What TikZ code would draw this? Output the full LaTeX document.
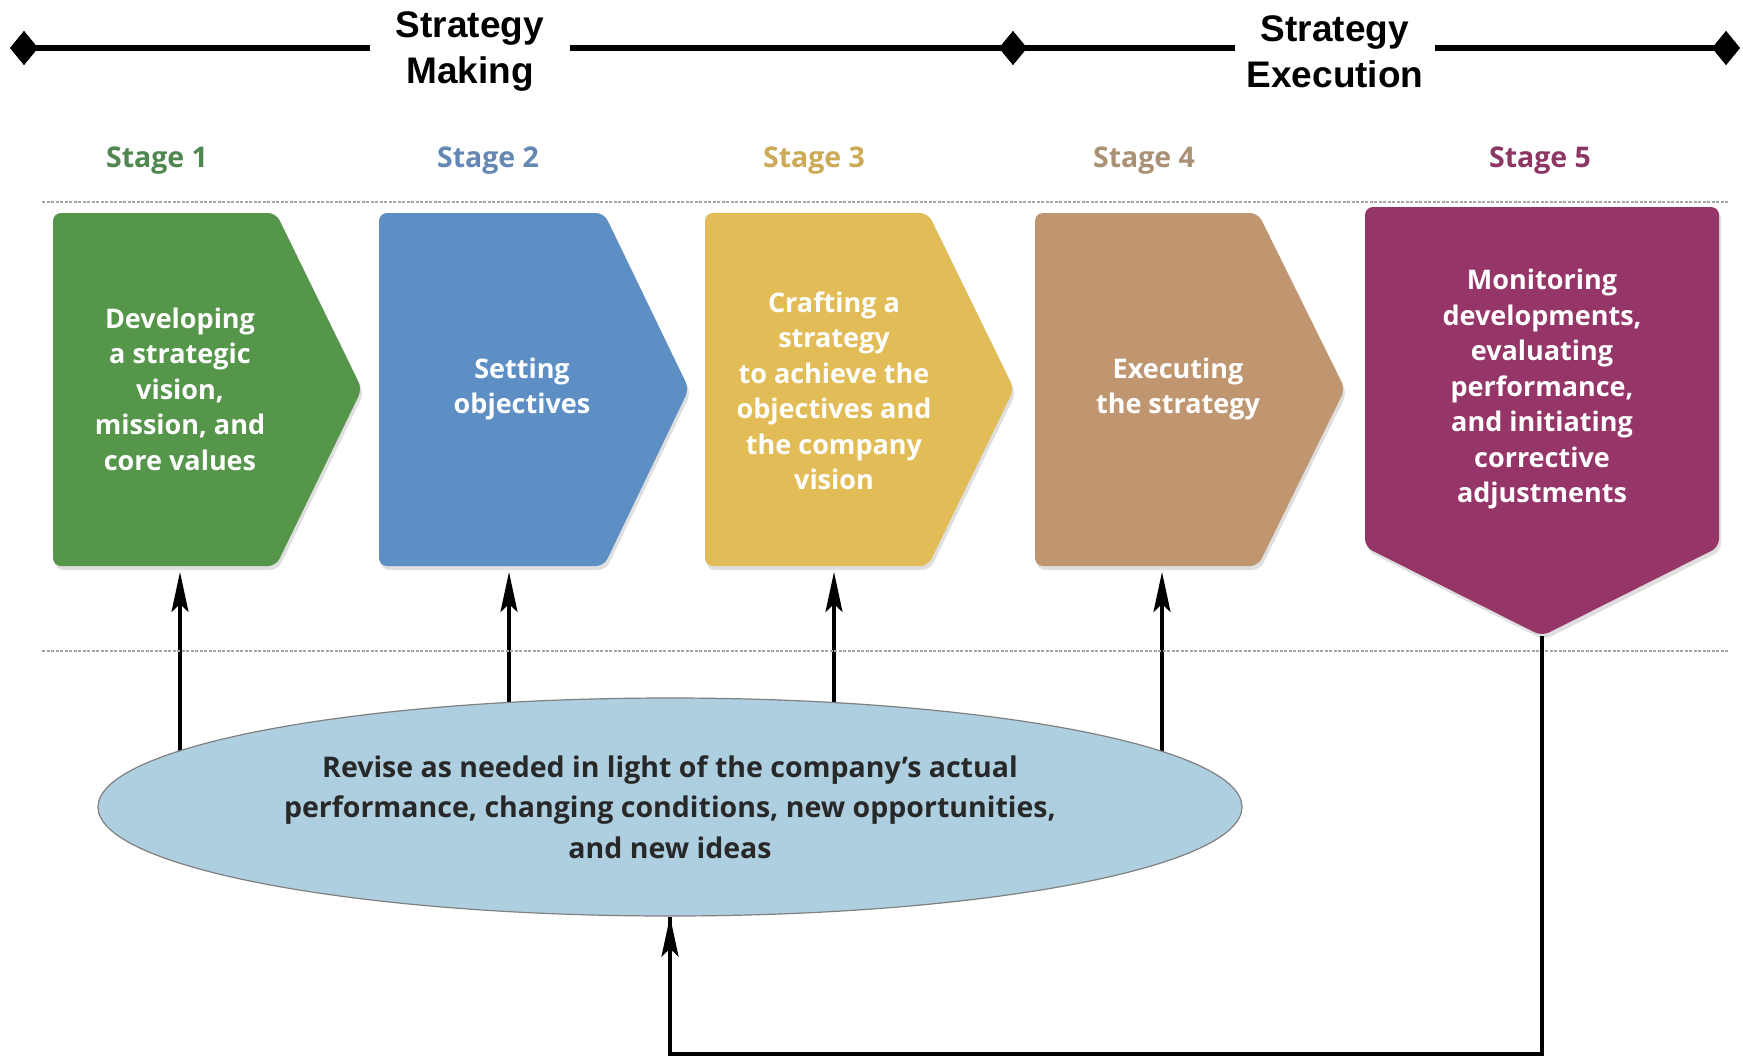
\documentclass[tikz,border=0pt]{standalone}
\usepackage{fontspec}
\setmainfont{Open Sans}
\newfontfamily\arialf{Liberation Sans}
\usetikzlibrary{shapes.geometric,arrows.meta,shadows,backgrounds}
\definecolor{cgreen}{RGB}{85,150,75}
\definecolor{cblue}{RGB}{93,143,197}
\definecolor{cyellow}{RGB}{226,188,86}
\definecolor{ctan}{RGB}{192,150,112}
\definecolor{cpurple}{RGB}{150,53,104}
\definecolor{lgreen}{RGB}{80,135,80}
\definecolor{lblue}{RGB}{100,135,180}
\definecolor{lyellow}{RGB}{205,170,85}
\definecolor{ltan}{RGB}{170,145,115}
\definecolor{lpurple}{RGB}{140,55,100}
\definecolor{ellfill}{RGB}{174,207,224}
\definecolor{elltext}{RGB}{40,40,40}
\definecolor{sepgray}{RGB}{165,165,165}
\begin{document}
\begin{tikzpicture}[x=1pt,y=-1pt,
  dia/.style={diamond,fill=black,minimum width=28pt,minimum height=34pt,inner sep=0pt},
  head/.style={align=center,fill=white,minimum width=200pt,inner sep=0pt,font=\arialf\bfseries\fontsize{37}{46}\selectfont},
  tl/.style={line width=6pt},
  stagelbl/.style={font=\bfseries\fontsize{28.5}{34}\selectfont},
  boxtext/.style={text=white,align=center,inner sep=0pt,font=\bfseries\fontsize{27}{35.5}\selectfont},
  stagebox/.style={rounded corners=8pt,drop shadow={shadow xshift=2pt,shadow yshift=-4pt,opacity=0.25}},
  sepline/.style={sepgray,line width=1.5pt,dash pattern=on 3pt off 1.5pt},
  uparrow/.style={line width=3.5pt,-{Stealth[length=40pt,width=17pt,inset=8pt]}},
  feedback/.style={line width=3.5pt}
]
\useasboundingbox (0,0) rectangle (1743,1060);
\begin{scope}[on background layer]
\fill[white] (0,0) rectangle (1743,1060);
\end{scope}

% timeline
\node[dia] (d1) at (24,48) {};
\node[dia] (d2) at (1013,48) {};
\node[dia] (d3) at (1726,48) {};
\draw[tl] (d1.center) -- (d2.center) -- (d3.center);
\node[head] (h1) at (470,52) {Strategy\\Making};
\node[head] (h2) at (1335,52) {Strategy\\Execution};
\node[dia] at (d1) {};
\node[dia] at (d2) {};
\node[dia] at (d3) {};

% stage labels
\node[stagelbl,text=lgreen] (s1) at (157,161) {Stage 1};
\node[stagelbl,text=lblue] (s2) at (488,161) {Stage 2};
\node[stagelbl,text=lyellow] (s3) at (814,161) {Stage 3};
\node[stagelbl,text=ltan] (s4) at (1144,161) {Stage 4};
\node[stagelbl,text=lpurple] (s5) at (1540,161) {Stage 5};

% separators
\draw[sepline] (42,202) -- (1729,202);
\draw[sepline] (42,651) -- (1729,651);

% stage shapes
\fill[cgreen,stagebox] (53,213) -- (276,213) -- (362,389) -- (276,566) -- (53,566) -- cycle;
\fill[cblue,stagebox] (379,213) -- (604,213) -- (689,389) -- (604,566) -- (379,566) -- cycle;
\fill[cyellow,stagebox] (705,213) -- (928,213) -- (1014,389) -- (928,566) -- (705,566) -- cycle;
\fill[ctan,stagebox] (1035,213) -- (1258,213) -- (1345,389) -- (1258,566) -- (1035,566) -- cycle;
\fill[cpurple,stagebox] (1365,207) -- (1719,207) -- (1719,547) -- (1542,636) -- (1365,547) -- cycle;

\node[boxtext] (t1) at (180,389) {Developing\\a strategic\\vision,\\mission, and\\core values};
\node[boxtext] (t2) at (522,389) {Setting\\objectives};
\node[boxtext] (t3) at (834,391) {Crafting a\\strategy\\to achieve the\\objectives and\\the company\\vision};
\node[boxtext] (t4) at (1178,389) {Executing\\the strategy};
\node[boxtext] (t5) at (1542,389) {Monitoring\\developments,\\evaluating\\performance,\\and initiating\\corrective\\adjustments};

\coordinate (a1) at (180,572);
\coordinate (a2) at (509,572);
\coordinate (a3) at (834,572);
\coordinate (a4) at (1162,572);
\coordinate (p5) at (1542,636);

% ellipse
\node[ellipse,fill=ellfill,draw=gray,line width=1.2pt,minimum width=1144pt,minimum height=218pt,inner sep=0pt,
  align=center,text=elltext,font=\bfseries\fontsize{28.5}{40.5}\selectfont] (ell) at (670,807)
  {Revise as needed in light of the company’s actual\\performance, changing conditions, new opportunities,\\and new ideas};

\begin{scope}[on background layer]
\draw[uparrow] (ell.center -| a1) -- (a1);
\draw[uparrow] (ell.center -| a2) -- (a2);
\draw[uparrow] (ell.center -| a3) -- (a3);
\draw[uparrow] (ell.center -| a4) -- (a4);
\end{scope}
\draw[feedback] (p5) -- ++(0,418) coordinate (fb) -| (ell.south);
\draw[uparrow] (ell.south |- fb) -- (ell.south);
\end{tikzpicture}
\end{document}
